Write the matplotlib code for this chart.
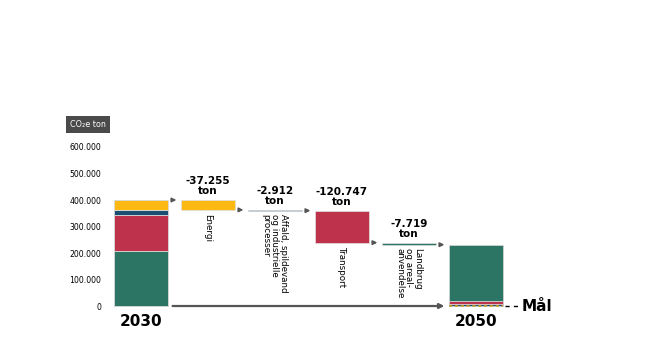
import matplotlib.pyplot as plt
from matplotlib.ticker import FuncFormatter

# data (tons CO2e)
start_2030 = {"Landbrug": 207500, "Transport": 136000, "Affald": 19000, "Energi": 37500}
end_2050 = {"Affald": 9000, "Transport": 10000, "Landbrug": 212400}
steps = ["Energi", "Affald", "Transport", "Landbrug"]
step_values = [-37255, -2912, -120747, -7719]
step_labels = ["-37.255\nton", "-2.912\nton", "-120.747\nton", "-7.719\nton"]
step_names = ["Energi", "Affald, spildevand\nog industrielle\nprocesser", "Transport",
              "Landbrug\nog areal-\nanvendelse"]
yticks = [0, 100000, 200000, 300000, 400000, 500000, 600000]

colors = {"Energi": "#FDB913", "Affald": "#1B4F72", "Transport": "#BE324B", "Landbrug": "#2C7463"}
arrow_col = "#555555"

fig = plt.figure(figsize=(6.5, 3.6), dpi=100)
# axes placed in pixel terms: left 108, right 560, top 140, bottom 316
ax = fig.add_axes([108 / 650, 1 - 316 / 360, (560 - 108) / 650, (316 - 140) / 360])
ax.set_xlim(-0.4925, 6.254)
ax.set_ylim(-37700, 626400)
w = 0.8

# 2030 stacked bar
bottom = 0
for k in ["Landbrug", "Transport", "Affald", "Energi"]:
    ax.bar(0, start_2030[k], w, bottom=bottom, color=colors[k], edgecolor="#d9d9d9", linewidth=0.6)
    bottom += start_2030[k]
total = bottom

# waterfall steps
level = total
levels = [total]
for i, (k, v) in enumerate(zip(steps, step_values)):
    x = i + 1
    ax.bar(x, -v, w, bottom=level + v, color=colors[k], edgecolor="#e0e0e0", linewidth=0.5)
    ax.text(x, level + 14000, step_labels[i], ha="center", va="bottom", fontsize=7.5,
            fontweight="bold", linespacing=1.05)
    ax.text(x, level + v - 14000, step_names[i], ha="center", va="top", rotation=270,
            fontsize=6.3, multialignment="left", linespacing=1.0)
    level += v
    levels.append(level)

# 2050 stacked bar
bottom = 0
for k in ["Affald", "Transport", "Landbrug"]:
    ax.bar(5, end_2050[k], w, bottom=bottom, color=colors[k], edgecolor="#d9d9d9", linewidth=0.5)
    bottom += end_2050[k]
ax.plot([5 - w / 2, 5 + w / 2], [1500, 1500], color="#C9A227", lw=1.2, ls=(0, (2, 1.5)))
ax.plot([5 + w / 2 + 0.03, 5.65], [0, 0], color="black", lw=1, ls=(0, (3, 3)))
ax.text(5.68, 0, "Mål", ha="left", va="center", fontsize=11, fontweight="bold")

# connecting arrows
for i in range(5):
    y = levels[i]
    ax.annotate("", xy=(i + 1 - w / 2 - 0.03, y), xytext=(i + w / 2 + 0.03, y),
                arrowprops=dict(arrowstyle="-|>", color=arrow_col, lw=1.2, mutation_scale=6))
ax.annotate("", xy=(5 - w / 2 - 0.03, 0), xytext=(w / 2 + 0.03, 0),
            arrowprops=dict(arrowstyle="-|>", color=arrow_col, lw=1.6, mutation_scale=7))

# year labels
ax.text(0, -57000, "2030", ha="center", va="center", fontsize=11, fontweight="bold")
ax.text(5, -57000, "2050", ha="center", va="center", fontsize=11, fontweight="bold")

ax.set_yticks(yticks)
ax.yaxis.set_major_formatter(FuncFormatter(lambda v, p: "{:,.0f}".format(v).replace(",", ".")))
ax.tick_params(axis="y", length=0, pad=5, labelsize=5.6)
ax.set_xticks([])
for s in ax.spines.values():
    s.set_visible(False)

fig.text(88 / 650, 1 - 124.5 / 360, "CO₂e ton", ha="center", va="center", fontsize=5.8,
         color="white", bbox=dict(boxstyle="square,pad=0.5", fc="#4a4a4a", ec="none"))

fig.savefig("out.png", dpi=100)
